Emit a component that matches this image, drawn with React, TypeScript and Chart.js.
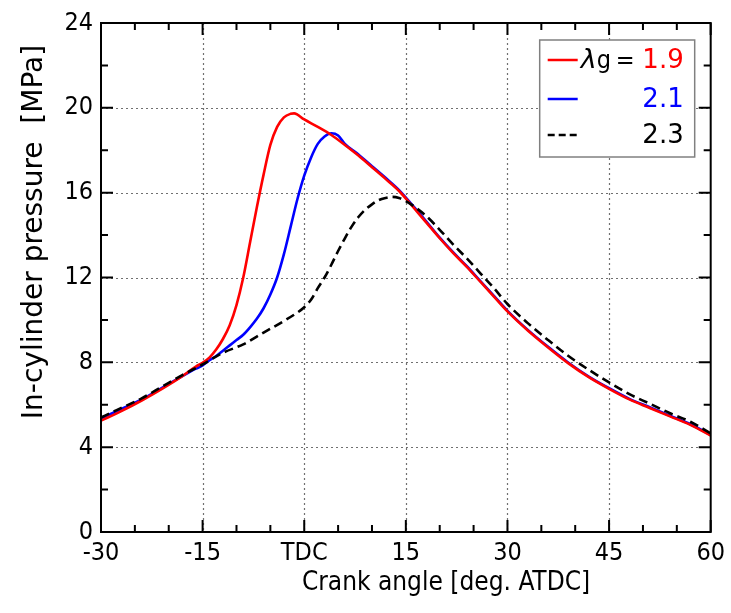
import React, { useEffect, useRef } from 'react';
import { Chart, registerables } from 'chart.js';
Chart.register(...registerables);

// ---- data ----
const redAngle = [-30, -27, -24, -21, -18, -16, -15, -14, -13, -12, -11, -10, -9, -8, -7, -6, -5, -4, -3, -2, -1.5, 0, 2, 4, 6, 8, 10, 12, 14, 16, 18, 20, 22, 24, 26, 28, 30, 33, 36, 39, 42, 45, 48, 51, 54, 57, 60];
const redPressure = [5.25, 5.7, 6.2, 6.75, 7.35, 7.8, 7.98, 8.22, 8.6, 9.1, 9.75, 10.7, 12.0, 13.65, 15.3, 16.85, 18.25, 19.1, 19.55, 19.72, 19.74, 19.45, 19.1, 18.72, 18.25, 17.75, 17.2, 16.65, 16.08, 15.35, 14.6, 13.85, 13.15, 12.5, 11.8, 11.1, 10.4, 9.5, 8.7, 7.95, 7.3, 6.75, 6.25, 5.85, 5.45, 5.05, 4.55];

const blueAngle = [-30, -27, -24, -21, -18, -16, -15, -14, -13, -12, -11, -10, -9, -8, -7, -6, -5, -4, -3, -2, -1, 0, 1, 2, 3, 4, 5, 6, 8, 10, 12, 14, 16, 18, 20, 22, 24, 26, 28, 30, 33, 36, 39, 42, 45, 48, 51, 54, 57, 60];
const bluePressure = [5.35, 5.8, 6.25, 6.8, 7.35, 7.7, 7.85, 8.1, 8.3, 8.55, 8.8, 9.05, 9.3, 9.65, 10.05, 10.55, 11.2, 12.0, 13.1, 14.4, 15.7, 16.8, 17.65, 18.3, 18.65, 18.8, 18.7, 18.3, 17.8, 17.25, 16.7, 16.12, 15.4, 14.65, 13.88, 13.18, 12.53, 11.83, 11.13, 10.43, 9.53, 8.73, 7.98, 7.33, 6.78, 6.28, 5.88, 5.48, 5.08, 4.58];

const blackAngle = [-30, -27, -24, -21, -18, -15, -12, -9, -6, -3, -1, 0, 1, 2, 3, 4, 5, 6, 7, 8, 9, 10, 11, 12, 13, 14, 15, 16, 18, 20, 22, 24, 26, 28, 30, 33, 36, 39, 42, 45, 48, 51, 54, 57, 60];
const blackPressure = [5.4, 5.85, 6.3, 6.85, 7.4, 7.9, 8.45, 8.85, 9.4, 9.95, 10.35, 10.6, 10.95, 11.5, 12.0, 12.6, 13.25, 13.85, 14.4, 14.85, 15.2, 15.45, 15.65, 15.75, 15.8, 15.75, 15.6, 15.4, 14.9, 14.25, 13.55, 12.9, 12.2, 11.5, 10.75, 9.85, 9.05, 8.3, 7.65, 7.05, 6.5, 6.05, 5.6, 5.2, 4.65];

const xTickValues = [-30, -15, 0, 15, 30, 45, 60];
const xTickLabels = ['-30', '-15', 'TDC', '15', '30', '45', '60'];
const yTickValues = [0, 4, 8, 12, 16, 20, 24];
const legendLabels = ['1.9', '2.1', '2.3'];
const seriesColors = ['#ff0000', '#0000ff', '#000000'];

const FONT = '"DejaVu Sans Condensed", "DejaVu Sans", sans-serif';
const FONT_REG = '"DejaVu Sans", sans-serif';

function pts(xs: number[], ys: number[]) {
  return xs.map((x, i) => ({ x, y: ys[i] }));
}

const framePlugin = {
  id: 'frame',
  beforeDatasetsDraw(chart: any) {
    const { ctx, chartArea: a, scales } = chart;
    const xs = scales.x, ys = scales.y;
    ctx.save();
    ctx.strokeStyle = '#707070';
    ctx.lineWidth = 1.2;
    ctx.setLineDash([2, 3]);
    for (const v of xTickValues) {
      const px = Math.round(xs.getPixelForValue(v)) + 0.5;
      if (px <= a.left + 2 || px >= a.right - 2) continue;
      ctx.beginPath(); ctx.moveTo(px, a.top); ctx.lineTo(px, a.bottom); ctx.stroke();
    }
    for (const v of yTickValues) {
      const py = Math.round(ys.getPixelForValue(v)) + 0.5;
      if (py <= a.top + 2 || py >= a.bottom - 2) continue;
      ctx.beginPath(); ctx.moveTo(a.left, py); ctx.lineTo(a.right, py); ctx.stroke();
    }
    ctx.restore();
  },
  afterDatasetsDraw(chart: any) {
    const { ctx, chartArea: a, scales } = chart;
    const xs = scales.x, ys = scales.y;
    ctx.save();
    ctx.setLineDash([]);
    ctx.strokeStyle = '#000';
    ctx.lineWidth = 2;
    for (let v = -30; v <= 60; v += 5) {
      const px = xs.getPixelForValue(v);
      const len = v % 15 === 0 ? 12 : 7;
      ctx.beginPath();
      ctx.moveTo(px, a.bottom); ctx.lineTo(px, a.bottom - len);
      ctx.moveTo(px, a.top); ctx.lineTo(px, a.top + len);
      ctx.stroke();
    }
    for (let v = 0; v <= 24; v += 2) {
      const py = ys.getPixelForValue(v);
      const len = v % 4 === 0 ? 12 : 7;
      ctx.beginPath();
      ctx.moveTo(a.left, py); ctx.lineTo(a.left + len, py);
      ctx.moveTo(a.right, py); ctx.lineTo(a.right - len, py);
      ctx.stroke();
    }
    ctx.strokeRect(a.left, a.top, a.right - a.left, a.bottom - a.top);

    // legend
    const lx = a.right - 171, ly = a.top + 17, lw = 155, lh = 117;
    ctx.fillStyle = '#fff';
    ctx.fillRect(lx, ly, lw, lh);
    ctx.strokeStyle = '#808080';
    ctx.lineWidth = 1.5;
    ctx.strokeRect(lx, ly, lw, lh);
    const rows = [ly + 20, ly + 59, ly + 95];
    ctx.textBaseline = 'middle';
    rows.forEach((ry, i) => {
      ctx.strokeStyle = seriesColors[i];
      ctx.lineWidth = 2.5;
      ctx.setLineDash(i === 2 ? [7, 4] : []);
      ctx.beginPath(); ctx.moveTo(lx + 8, ry); ctx.lineTo(lx + 38, ry); ctx.stroke();
      ctx.setLineDash([]);
      ctx.fillStyle = seriesColors[i];
      ctx.textAlign = 'right';
      ctx.font = `26px ${FONT_REG}`;
      ctx.fillText(legendLabels[i], lx + lw - 11, ry + 1);
    });
    ctx.fillStyle = '#000';
    ctx.textAlign = 'left';
    ctx.font = `italic 27px ${FONT_REG}`;
    ctx.fillText('λ', lx + 41, rows[0] + 1);
    ctx.font = `25px ${FONT}`;
    ctx.fillText('g', lx + 57, rows[0] + 1);
    ctx.fillText('=', lx + 76, rows[0] + 1);

    // axis titles
    ctx.fillStyle = '#000';
    ctx.font = `26px ${FONT}`;
    ctx.textAlign = 'center';
    ctx.textBaseline = 'middle';
    ctx.fillText('Crank angle [deg. ATDC]', a.left + 345, a.bottom + 51);
    ctx.font = `28px ${FONT_REG}`;
    ctx.translate(35, a.top + 209);
    ctx.rotate(-Math.PI / 2);
    ctx.fillText('In-cylinder pressure  [MPa]', 0, 0);
    ctx.restore();
  },
};

export default function App() {
  const ref = useRef<HTMLCanvasElement | null>(null);
  useEffect(() => {
    if (!ref.current) return;
    const common = { pointRadius: 0, borderWidth: 2.6, cubicInterpolationMode: 'monotone' };
    const chart = new Chart(ref.current, {
      type: 'line',
      data: {
        datasets: [
          { label: '2.1', data: pts(blueAngle, bluePressure), borderColor: seriesColors[1], ...common, order: 2 },
          { label: '1.9', data: pts(redAngle, redPressure), borderColor: seriesColors[0], ...common, order: 1 },
          { label: '2.3', data: pts(blackAngle, blackPressure), borderColor: seriesColors[2], borderDash: [9, 5], ...common, order: 0 },
        ],
      },
      options: {
        animation: false,
        responsive: false,
        maintainAspectRatio: false,
        layout: { padding: { left: 0, top: 19, right: 19, bottom: 0 } },
        plugins: { legend: { display: false }, tooltip: { enabled: false } },
        scales: {
          x: {
            type: 'linear', min: -30, max: 60,
            afterBuildTicks: (s: any) => { s.ticks = xTickValues.map((v) => ({ value: v })); },
            afterFit: (s: any) => { s.height = 81; },
            grid: { display: false, drawTicks: false },
            border: { display: false },
            ticks: {
              autoSkip: false, maxRotation: 0, padding: 6, color: '#000',
              font: { family: FONT, size: 25 },
              callback: (v: any) => { const i = xTickValues.indexOf(Number(v)); return i >= 0 ? xTickLabels[i] : ''; },
            },
          },
          y: {
            type: 'linear', min: 0, max: 24,
            afterBuildTicks: (s: any) => { s.ticks = yTickValues.map((v) => ({ value: v })); },
            afterFit: (s: any) => { s.width = 101; },
            grid: { display: false, drawTicks: false },
            border: { display: false },
            ticks: { padding: 8, color: '#000', font: { family: FONT, size: 25 } },
          },
        },
      },
      plugins: [framePlugin],
    } as any);
    return () => chart.destroy();
  }, []);
  return (
    <div style={{ position: 'fixed', left: 0, top: 0, width: 731, height: 613, background: '#fff' }}>
      <canvas ref={ref} width={731} height={613} />
    </div>
  );
}
